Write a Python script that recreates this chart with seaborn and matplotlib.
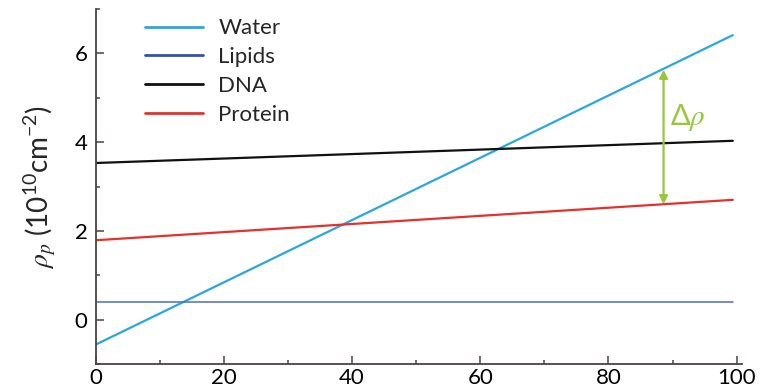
import numpy as np
import pandas as pd
import matplotlib
matplotlib.use("Agg")
import matplotlib.pyplot as plt
import seaborn as sns
from matplotlib.ticker import MultipleLocator

# Data
x_vals = [0, 99.4]
water = [-0.56, 6.41]
lipids = [0.39, 0.39]
dna = [3.53, 4.03]
protein = [1.79, 2.70]
series_names = ["Water", "Lipids", "DNA", "Protein"]
arrow_x = 88.6
arrow_low = 2.60
arrow_high = 5.63
x_ticks = [0, 20, 40, 60, 80, 100]
y_ticks = [0, 2, 4, 6]

sns.set_style("white")
plt.rcParams['font.family'] = ['Lato', 'DejaVu Sans']
plt.rcParams['mathtext.fontset'] = 'stix'

colors = {"Water": "#2aa8dc", "Lipids": "#4a6cc4", "DNA": "#111111", "Protein": "#e3312b"}
widths = {"Water": 1.6, "Lipids": 1.1, "DNA": 1.6, "Protein": 1.6}

rows = []
for name, vals in zip(series_names, [water, lipids, dna, protein]):
    for xv, yv in zip(x_vals, vals):
        rows.append({"x": xv, "y": yv, "series": name})
df = pd.DataFrame(rows)

fig = plt.figure(figsize=(7.6, 3.89), dpi=100)
ax = fig.add_axes([0.126, 0.064, 0.850, 0.913])

for name in series_names:
    sub = df[df.series == name]
    sns.lineplot(data=sub, x="x", y="y", ax=ax, color=colors[name],
                 linewidth=widths[name], label=name)

axis_col = "#4a4343"
ax.set_xlim(0, 100.8)
ax.set_ylim(-1.0, 7.0)
ax.set_xticks(x_ticks)
ax.set_yticks(y_ticks)
ax.xaxis.set_minor_locator(MultipleLocator(10))
ax.yaxis.set_minor_locator(MultipleLocator(1))
ax.tick_params(which='major', direction='in', length=6, width=1.1, color=axis_col,
               labelsize=16, labelcolor='black', pad=6)
ax.tick_params(which='minor', direction='in', length=3, width=1.1, color=axis_col)
ax.tick_params(axis='x', which='major', pad=3)
ax.tick_params(axis='x', which='both', bottom=True)
ax.tick_params(axis='y', which='both', left=True)
for side in ['top', 'right']:
    ax.spines[side].set_visible(False)
for side in ['left', 'bottom']:
    ax.spines[side].set_color(axis_col)
    ax.spines[side].set_linewidth(1.3)

ax.set_xlabel("")
ax.set_ylabel(r"$\rho_p$ $\mathregular{(10^{10}cm^{-2})}$", fontsize=20, labelpad=12)

# Delta rho arrow
ax.annotate("", xy=(arrow_x, arrow_high), xytext=(arrow_x, arrow_low),
            arrowprops=dict(arrowstyle="<|-|>", color="#98c83a", lw=1.6,
                            mutation_scale=12, shrinkA=0, shrinkB=0))
ax.text(arrow_x + 1.0, (arrow_low + arrow_high) / 2 + 0.45,
        r"$\mathregular{\Delta}\rho$",
        color="#98c83a", fontsize=21, va='center', ha='left')

leg = ax.legend(loc='upper left', bbox_to_anchor=(0.045, 1.03), frameon=False,
                fontsize=16, handlelength=2.6, handletextpad=0.7, labelspacing=0.4)
for h in leg.get_lines():
    h.set_linewidth(2.0)
leg.get_lines()[1].set_color("#3450b0")

fig.savefig("out.png", dpi=100)
